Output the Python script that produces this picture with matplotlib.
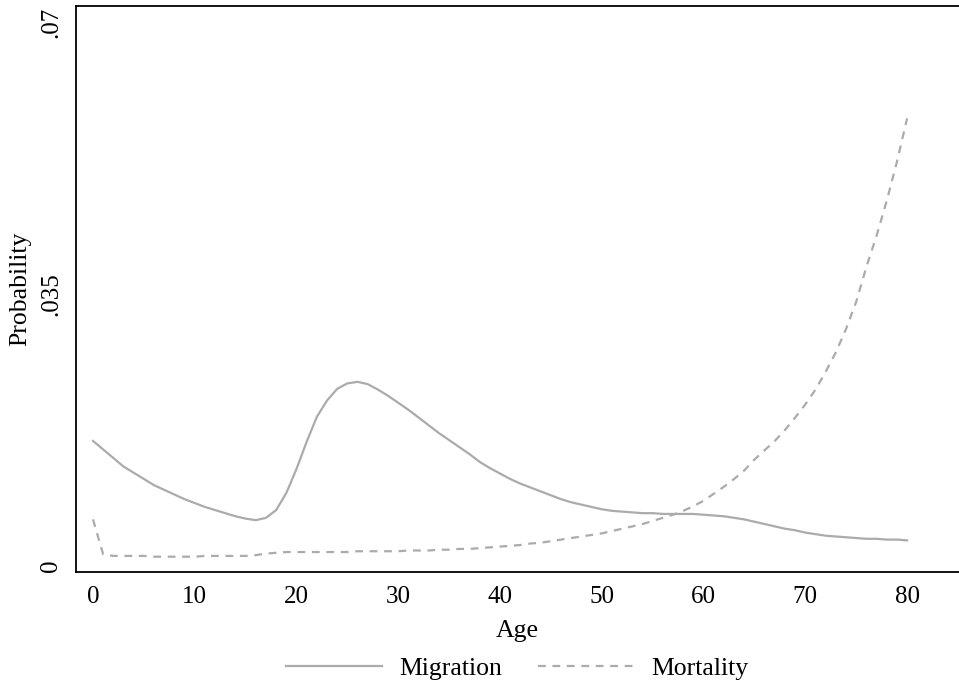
import numpy as np
import matplotlib.pyplot as plt

plt.rcParams['font.family'] = ['Liberation Serif', 'DejaVu Serif']

age = np.arange(0, 81)

migration = np.array([
    .0161, .0150, .0139, .0128, .0120, .0112, .0104, .0098, .0092, .0086,
    .0081, .0076, .0072, .0068, .0064, .0061, .0059, .0062, .0072, .0094,
    .0125, .0160, .0192, .0213, .0228, .0235, .0237, .0234, .0227, .0219,
    .0210, .0201, .0191, .0181, .0171, .0162, .0153, .0144, .0134, .0126,
    .0119, .0112, .0106, .0101, .0096, .0091, .0086, .0082, .0079, .0076,
    .0073, .0071, .0070, .0069, .0068, .0068, .0067, .0067, .0067, .0067,
    .0066, .0065, .0064, .0062, .0060, .0057, .0054, .0051, .0048, .0046,
    .0043, .0041, .0039, .0038, .0037, .0036, .0035, .0035, .0034, .0034,
    .0033,
])

mortality = np.array([
    .0060, .0015, .0013, .0013, .0013, .0013, .0012, .0012, .0012, .0012,
    .0012, .0013, .0013, .0013, .0013, .0013, .0014, .0016, .0017, .0018,
    .0018, .0018, .0018, .0018, .0018, .0018, .0019, .0019, .0019, .0019,
    .0019, .0020, .0020, .0020, .0021, .0021, .0022, .0022, .0023, .0024,
    .0025, .0026, .0027, .0029, .0030, .0032, .0034, .0036, .0038, .0040,
    .0042, .0045, .0048, .0051, .0054, .0058, .0062, .0066, .0071, .0077,
    .0084, .0093, .0102, .0112, .0123, .0137, .0149, .0161, .0175, .0191,
    .0208, .0227, .0250, .0275, .0305, .0340, .0385, .0425, .0470, .0520,
    .0576,
])

xticks = [0, 10, 20, 30, 40, 50, 60, 70, 80]
yticks = [0, .035, .07]
ytick_labels = ['0', '.035', '.07']

gray = '#ababab'
fs = 18.5

fig = plt.figure(figsize=(9.59, 6.86), dpi=100)
ax = fig.add_axes([76/959, 1 - 572/686, 1 - 76/959, (572 - 6)/686])

ax.plot(age, migration, color=gray, lw=1.6, label='Migration')
ax.plot(age, mortality, color=gray, lw=1.6, dashes=(3.5, 3), label='Mortality')

ax.set_xlim(-1.67, 85.1)
ax.set_ylim(-0.00077, 0.07206)
ax.set_xticks(xticks)
ax.set_yticks(yticks)
ax.set_yticklabels(ytick_labels, rotation=90, va='center')
ax.tick_params(length=0, labelsize=18)
ax.tick_params(axis='x', pad=10)
ax.tick_params(axis='y', pad=10)
ax.spines['right'].set_visible(False)
for s in ['left', 'top', 'bottom']:
    ax.spines[s].set_linewidth(1.3)

ax.set_xlabel('Age', fontsize=fs, labelpad=9)
ax.set_ylabel('Probability', fontsize=fs, labelpad=6)

ax.legend(loc='upper center', bbox_to_anchor=(0.5, -0.11), ncol=2,
          frameon=False, fontsize=fs, handlelength=3.7, handletextpad=0.7,
          columnspacing=1.4)

plt.savefig('out.png', dpi=100)
